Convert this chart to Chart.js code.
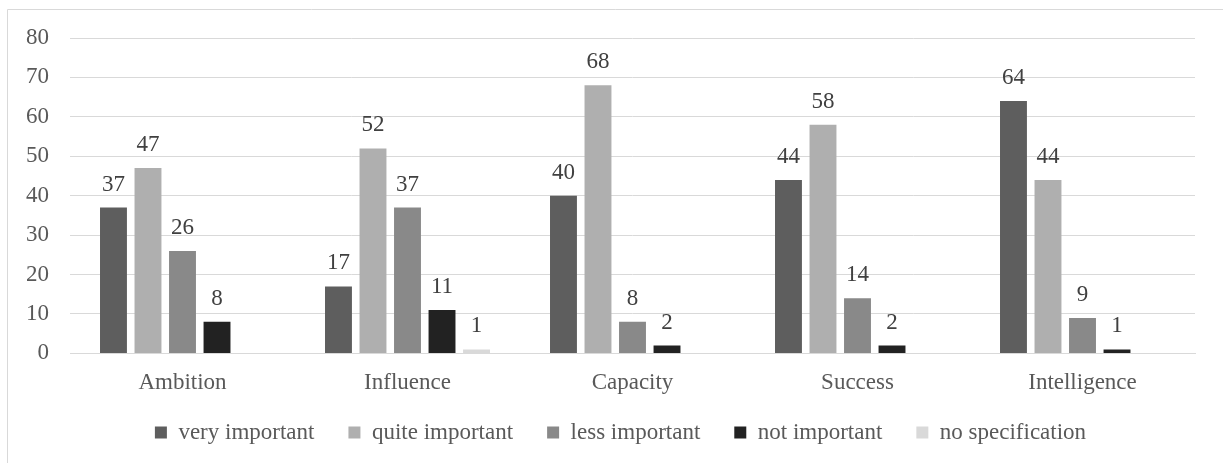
<!DOCTYPE html>
<html>
<head>
<meta charset="utf-8">
<script src="https://cdn.jsdelivr.net/npm/chart.js@4/dist/chart.umd.min.js"></script>
<style>
  html, body { margin: 0; padding: 0; background: #fff; }
  #wrap { width: 1223px; height: 463px; }
</style>
</head>
<body>
<div id="wrap"><canvas id="myChart"></canvas></div>
<script>
let categories = ['Ambition', 'Influence', 'Capacity', 'Success', 'Intelligence'];
let veryImportant = [37, 17, 40, 44, 64];
let quiteImportant = [47, 52, 68, 58, 44];
let lessImportant = [26, 37, 8, 14, 9];
let notImportant = [8, 11, 2, 2, 1];
let noSpecification = [0, 1, 0, 0, 0];
let yTicks = [0, 10, 20, 30, 40, 50, 60, 70, 80];

let fontFamily = '"Liberation Serif", "Times New Roman", serif';
let textColor = '#595959';

// value labels above each bar (zeros are left out, as in the original)
let barLabels = {
  id: 'barLabels',
  afterDatasetsDraw(chart) {
    let ctx = chart.ctx;
    ctx.save();
    ctx.font = '23px ' + fontFamily;
    ctx.fillStyle = '#404040';
    ctx.textAlign = 'center';
    ctx.textBaseline = 'alphabetic';
    chart.data.datasets.forEach((ds, i) => {
      chart.getDatasetMeta(i).data.forEach((bar, j) => {
        if (ds.data[j] === 0) return;
        ctx.fillText(ds.data[j], bar.x, bar.y - 17);
      });
    });
    ctx.restore();
  }
};

// outer frame (only top and left edges fall inside the picture)
// plus a fixed legend height and a small nudge of the legend
let frame = {
  id: 'frame',
  afterInit(chart) {
    let legend = chart.legend;
    let fit = legend.fit.bind(legend);
    legend.fit = function () { fit(); this.height = 58; };
  },
  afterLayout(chart) {
    chart.legend.left += 23;
    chart.legend.right += 23;
    chart.legend.top -= 18;
    chart.legend.bottom -= 18;
  },
  beforeDraw(chart) {
    let ctx = chart.ctx;
    ctx.save();
    ctx.strokeStyle = '#d9d9d9';
    ctx.lineWidth = 1;
    ctx.beginPath();
    ctx.moveTo(7.5, 463);
    ctx.lineTo(7.5, 9.5);
    ctx.lineTo(1223, 9.5);
    ctx.stroke();
    ctx.restore();
  }
};

let chart = new Chart(document.getElementById('myChart'), {
  type: 'bar',
  data: {
    labels: categories,
    datasets: [
      { label: 'very important', data: veryImportant, backgroundColor: '#5e5e5e' },
      { label: 'quite important', data: quiteImportant, backgroundColor: '#afafaf' },
      { label: 'less important', data: lessImportant, backgroundColor: '#898989' },
      { label: 'not important', data: notImportant, backgroundColor: '#222222' },
      { label: 'no specification', data: noSpecification, backgroundColor: '#d9d9d9' }
    ]
  },
  options: {
    responsive: true,
    maintainAspectRatio: false,
    animation: false,
    categoryPercentage: 0.767,
    barPercentage: 0.78,
    layout: { padding: { top: 38, right: 28, left: 0, bottom: 0 } },
    plugins: {
      tooltip: { enabled: false },
      legend: {
        position: 'bottom',
        labels: {
          boxWidth: 12,
          boxHeight: 12,
          padding: 34,
          color: textColor,
          font: { family: fontFamily, size: 23 }
        }
      }
    },
    scales: {
      x: {
        grid: { display: false },
        border: { color: '#d9d9d9' },
        ticks: { color: textColor, padding: 8, font: { family: fontFamily, size: 23 } }
      },
      y: {
        min: 0,
        max: 80,
        afterFit(scale) { scale.width = 70; },
        afterBuildTicks(scale) { scale.ticks = yTicks.map(v => ({ value: v })); },
        grid: { color: '#d9d9d9', drawTicks: false },
        border: { display: false },
        ticks: { color: textColor, padding: 21, font: { family: fontFamily, size: 23 } }
      }
    }
  },
  plugins: [barLabels, frame]
});
</script>
</body>
</html>
